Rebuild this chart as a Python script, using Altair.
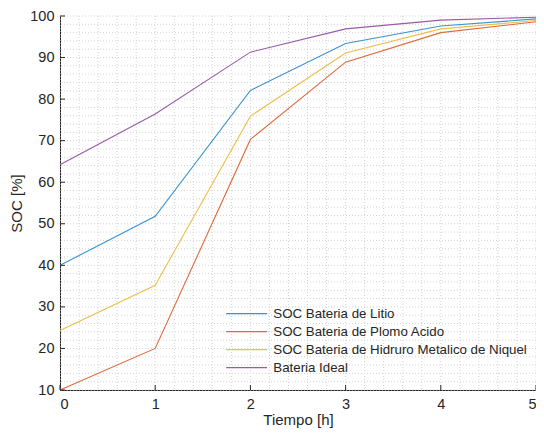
import altair as alt
import pandas as pd

# ---- data ----
tiempo = [0, 1, 2, 3, 4, 5]
litio = [40.0, 51.8, 82.1, 93.4, 97.6, 99.3]
plomo = [10.0, 20.0, 70.3, 88.9, 96.0, 98.6]
nimh = [24.3, 35.2, 75.9, 91.1, 96.9, 98.9]
ideal = [64.2, 76.4, 91.3, 96.9, 99.0, 99.7]

names = [
    "SOC Bateria de Litio",
    "SOC Bateria de Plomo Acido",
    "SOC Bateria de Hidruro Metalico de Niquel",
    "Bateria Ideal",
]
colors = ["#3d93d1", "#dd6a3c", "#efbf4a", "#9a5aa9"]

x_ticks = [0, 1, 2, 3, 4, 5]
y_ticks = [10, 20, 30, 40, 50, 60, 70, 80, 90, 100]
x_minor = [round(i * 0.2, 1) for i in range(0, 26)]
y_minor = list(range(10, 101, 2))

rows = []
for name, vals in zip(names, [litio, plomo, nimh, ideal]):
    for t, v in zip(tiempo, vals):
        rows.append({"Tiempo": t, "SOC": v, "Serie": name})
df = pd.DataFrame(rows)

W, H = 476, 374
xs = alt.Scale(domain=[0, 5], nice=False, zero=False)
ys = alt.Scale(domain=[10, 100], nice=False, zero=False)

x_axis = alt.Axis(
    values=x_ticks, title="Tiempo [h]", grid=False, ticks=False,
    labelPadding=7, titlePadding=2, format="d",
)
y_axis = alt.Axis(
    values=y_ticks, title="SOC [%]", grid=False, ticks=False,
    labelPadding=6, titlePadding=5, format="d",
)

grid_x = alt.Chart(pd.DataFrame({"Tiempo": x_minor})).mark_rule(
    color="#d4d4d4", strokeWidth=1, strokeDash=[1, 2]
).encode(x=alt.X("Tiempo:Q", scale=xs, axis=x_axis))

grid_y = alt.Chart(pd.DataFrame({"SOC": y_minor})).mark_rule(
    color="#d4d4d4", strokeWidth=1, strokeDash=[1, 2]
).encode(y=alt.Y("SOC:Q", scale=ys, axis=y_axis))

lines = alt.Chart(df).mark_line(strokeWidth=1.1).encode(
    x=alt.X("Tiempo:Q", scale=xs, axis=x_axis),
    y=alt.Y("SOC:Q", scale=ys, axis=y_axis),
    color=alt.Color(
        "Serie:N",
        sort=names,
        scale=alt.Scale(domain=names, range=colors),
        legend=alt.Legend(
            title=None, orient="none", legendX=180, legendY=291,
            symbolType="M-5,0L5,0", symbolSize=67, symbolStrokeWidth=1.2,
            labelFontSize=13.3, labelColor="#262626", labelOffset=20,
            rowPadding=4, labelFont="Liberation Sans", labelLimit=400,
        ),
    ),
)

tick_x = alt.Chart(pd.DataFrame({"Tiempo": x_ticks})).mark_rule(color="#262626").encode(
    x=alt.X("Tiempo:Q", scale=xs, axis=x_axis), y=alt.value(H), y2=alt.value(H - 5)
)
tick_y = alt.Chart(pd.DataFrame({"SOC": y_ticks})).mark_rule(color="#262626").encode(
    y=alt.Y("SOC:Q", scale=ys, axis=y_axis), x=alt.value(0), x2=alt.value(5)
)

chart = alt.layer(grid_x, grid_y, lines, tick_x, tick_y).properties(
    width=W, height=H,
    autosize=alt.AutoSizeParams(type="none"),
    padding={"left": 52, "top": 8, "right": 0, "bottom": 41},
).configure_view(stroke=None).configure_axis(
    domainColor="#262626", labelColor="#262626", titleColor="#262626",
    labelFont="Liberation Sans", titleFont="Liberation Sans",
    labelFontSize=14.5, titleFontSize=15, titleFontWeight="normal",
)

chart.save("out.html", embed_options={"renderer": "svg", "actions": False})
